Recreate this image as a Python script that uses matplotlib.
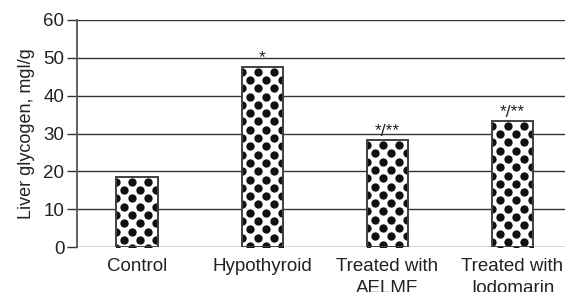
import numpy as np
import matplotlib.pyplot as plt

plt.rcParams['font.family'] = ['Liberation Sans', 'DejaVu Sans']

groups = ["Control", "Hypothyroid", "Treated with\nAELMF", "Treated with\nIodomarin"]
glycogen = [18.5, 47.6, 28.2, 33.3]
marks = ["", "*", "*/**", "*/**"]
yticks = [0, 10, 20, 30, 40, 50, 60]

fig = plt.figure(figsize=(5.65, 2.92), dpi=100)
ax = fig.add_axes([77 / 565, 45 / 292, 1 - 77 / 565, 227 / 292])

x = np.arange(len(groups))
ax.set_xlim(-0.48, 3.42)
ax.set_ylim(0, 60)

# grid lines behind bars
for v in yticks:
    ax.axhline(v, color='#333333', lw=1.0, zorder=0)

bars = ax.bar(x, glycogen, width=0.33, color='white', edgecolor='#444444',
              linewidth=1.3, zorder=2)

# polka dot fill, drawn in pixel space and clipped to each bar
inv = ax.transData.inverted()
for b in bars:
    (x0, y0), (x1, y1) = ax.transData.transform([(b.get_x(), 0),
                                                 (b.get_x() + b.get_width(), b.get_height())])
    pts = []
    row = 0
    yy = y1 - 4.7
    while yy > y0 - 5:
        off = 0 if row % 2 == 0 else 8
        xx = x0 + off
        while xx < x1 + 5:
            pts.append((xx, yy))
            xx += 16
        yy -= 8.3
        row += 1
    dpts = inv.transform(np.array(pts))
    sc = ax.scatter(dpts[:, 0], dpts[:, 1], s=36, color='#111111',
                    linewidths=0, zorder=3)
    sc.set_clip_path(b)
    ax.bar(b.get_x() + b.get_width() / 2, b.get_height(), width=b.get_width(),
           fill=False, edgecolor='#444444', linewidth=1.3, zorder=4)

for xi, v, m in zip(x, glycogen, marks):
    if m:
        ax.annotate(m, (xi, v), xytext=(0, 1), textcoords='offset points',
                    ha='center', va='bottom', fontsize=12.5, color='#222222')

for s in ['top', 'right', 'bottom']:
    ax.spines[s].set_visible(False)
ax.spines['left'].set_color('#555555')
ax.spines['left'].set_linewidth(1.3)
ax.spines['left'].set_zorder(5)

ax.set_yticks(yticks)
ax.tick_params(axis='y', length=7, width=1.0, color='#333333', labelsize=13.5,
               pad=2, labelcolor='#222222')
ax.set_xticks(x)
ax.set_xticklabels(groups, fontsize=13.5, color='#222222', linespacing=1.35)
ax.tick_params(axis='x', length=0, pad=8)
ax.set_ylabel("Liver glycogen, mgl/g", fontsize=13, color='#222222', labelpad=6)

fig.savefig("out.png", dpi=100)
